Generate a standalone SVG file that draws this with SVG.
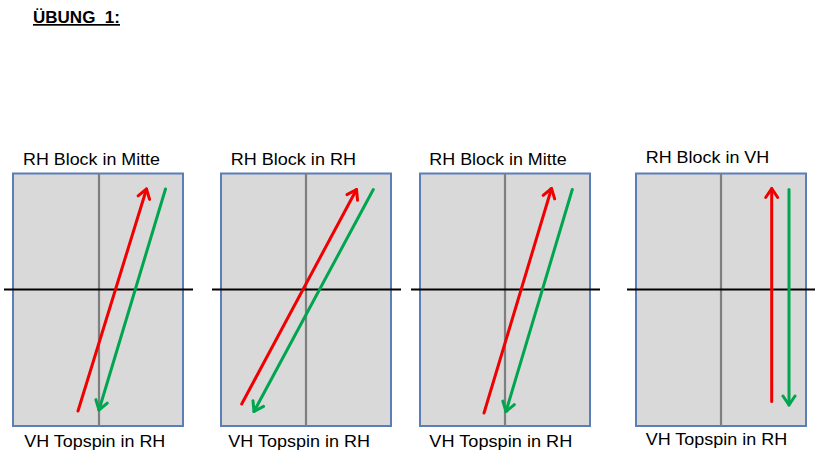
<svg xmlns="http://www.w3.org/2000/svg" width="820" height="457" viewBox="0 0 820 457">
<style>
text { font-family: "Liberation Sans", Arial, sans-serif; fill: #000; }
.lbl { font-size: 17px; }
.title { font-size: 17px; font-weight: bold; text-decoration: underline; white-space: pre; }
.table { fill: #D9D9D9; stroke: #5A7FB8; stroke-width: 2; }
.mid { stroke: #7F7F7F; stroke-width: 2.2; }
.net { stroke: #000; stroke-width: 2; }
.red { stroke: #F00000; stroke-width: 3; fill: none; stroke-linecap: round; marker-end: url(#ahR); }
.grn { stroke: #00A64F; stroke-width: 3; fill: none; stroke-linecap: round; marker-end: url(#ahG); }
</style>
<defs>
<marker id="ahR" markerUnits="userSpaceOnUse" viewBox="-12 -8 14 16" markerWidth="14" markerHeight="16" refX="0" refY="0" orient="auto">
<path d="M -9 -6 L 0 0 L -9 6" fill="none" stroke="#F00000" stroke-width="3" stroke-linecap="round" stroke-linejoin="round"/>
</marker>
<marker id="ahG" markerUnits="userSpaceOnUse" viewBox="-12 -8 14 16" markerWidth="14" markerHeight="16" refX="0" refY="0" orient="auto">
<path d="M -9 -6 L 0 0 L -9 6" fill="none" stroke="#00A64F" stroke-width="3" stroke-linecap="round" stroke-linejoin="round"/>
</marker>
</defs>
<rect width="820" height="457" fill="#fff"/>
<text id="title" class="title" x="33" y="23" textLength="87" lengthAdjust="spacingAndGlyphs">ÜBUNG  1:</text>

<g id="table1">
<rect class="table" x="13" y="173.5" width="170" height="252.5"/>
<line class="mid" x1="99" y1="173.5" x2="99" y2="426"/>
<line class="net" x1="4" y1="289.5" x2="193" y2="289.5"/>
<text class="lbl" x="23" y="165" textLength="137" lengthAdjust="spacingAndGlyphs">RH Block in Mitte</text>
<text class="lbl" x="24.3" y="447" textLength="141" lengthAdjust="spacingAndGlyphs">VH Topspin in RH</text>
</g>

<g id="table2">
<rect class="table" x="221" y="173.5" width="170" height="252.5"/>
<line class="mid" x1="306" y1="173.5" x2="306" y2="426"/>
<line class="net" x1="212" y1="289.5" x2="401" y2="289.5"/>
<text class="lbl" x="230.7" y="165" textLength="125.3" lengthAdjust="spacingAndGlyphs">RH Block in RH</text>
<text class="lbl" x="228.3" y="447" textLength="141.7" lengthAdjust="spacingAndGlyphs">VH Topspin in RH</text>
</g>

<g id="table3">
<rect class="table" x="420" y="173.5" width="170" height="252.5"/>
<line class="mid" x1="505" y1="173.5" x2="505" y2="426"/>
<line class="net" x1="411" y1="289.5" x2="600" y2="289.5"/>
<text class="lbl" x="429.3" y="165" textLength="137.4" lengthAdjust="spacingAndGlyphs">RH Block in Mitte</text>
<text class="lbl" x="429.3" y="447" textLength="143" lengthAdjust="spacingAndGlyphs">VH Topspin in RH</text>
</g>

<g id="table4">
<rect class="table" x="636" y="173.5" width="170" height="252.5"/>
<line class="mid" x1="721" y1="173.5" x2="721" y2="426"/>
<line class="net" x1="627" y1="289.5" x2="815" y2="289.5"/>
<text class="lbl" x="645.7" y="163" textLength="123.6" lengthAdjust="spacingAndGlyphs">RH Block in VH</text>
<text class="lbl" x="645.7" y="445" textLength="141.6" lengthAdjust="spacingAndGlyphs">VH Topspin in RH</text>
</g>

<g id="connectors">
<line class="red" x1="78" y1="411" x2="146.5" y2="189"/>
<line class="grn" x1="165.5" y1="189" x2="99" y2="410"/>
<line class="red" x1="241.7" y1="404" x2="356.5" y2="189.5"/>
<line class="grn" x1="373.3" y1="189.5" x2="254" y2="411.5"/>
<line class="red" x1="484" y1="413" x2="551.5" y2="188.5"/>
<line class="grn" x1="572.3" y1="189.5" x2="506" y2="411.5"/>
<line class="red" x1="771.7" y1="401.5" x2="771.7" y2="188.5"/>
<line class="grn" x1="789" y1="189.5" x2="789" y2="405"/>
</g>
</svg>
